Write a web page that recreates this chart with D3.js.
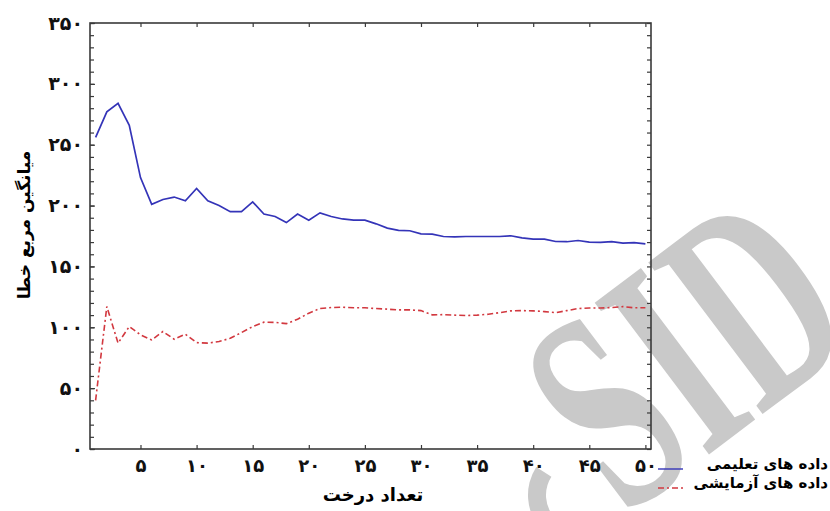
<!DOCTYPE html>
<html>
<head>
<meta charset="utf-8">
<script src="https://cdn.jsdelivr.net/npm/d3@7"></script>
<style>
  body { margin: 0; background: #fff; }
  svg { display: block; }
</style>
</head>
<body>
<div id="chart"></div>
<script>
// number of trees (x)
const trees = [1, 2, 3, 4, 5, 6, 7, 8, 9, 10, 11, 12, 13, 14, 15, 16, 17, 18, 19, 20,
  21, 22, 23, 24, 25, 26, 27, 28, 29, 30, 31, 32, 33, 34, 35, 36, 37, 38, 39, 40,
  41, 42, 43, 44, 45, 46, 47, 48, 49, 50];

// mean squared error, training data
const trainMse = [256, 277, 284, 266, 223, 201, 205, 207, 204, 214, 204, 200, 195, 195, 203,
  193, 191, 186, 193, 188, 194, 191, 189, 188, 188, 185, 181.5, 179.6, 179.3, 176.8,
  176.6, 174.6, 174.3, 174.6, 174.6, 174.6, 174.6, 175.2, 173.5, 172.4,
  172.4, 170.5, 170.3, 171.3, 170, 169.7, 170.3, 169.2, 169.5, 168.6];

// mean squared error, test data
const testMse = [40, 117, 87, 100.6, 93.8, 89.6, 96.5, 90.2, 94.3, 87.4, 87, 88.3, 91, 95.7, 100.6,
  104.2, 104, 103, 106.6, 111.6, 115.4, 116.2, 116.5, 116, 116, 115.4, 114.9, 114.3, 114.3, 113.7,
  110.2, 110.4, 110, 109.6, 110, 110.7, 112, 113.5, 113.7, 113.5,
  112.9, 112, 113.7, 115.4, 115.8, 115.8, 116.2, 117, 116, 116];

const xTicks = [5, 10, 15, 20, 25, 30, 35, 40, 45, 50];
const yTicks = [0, 50, 100, 150, 200, 250, 300, 350];
const yMinorTicks = d3.range(0, 351, 10);

const seriesNames = ["داده های تعلیمی", "داده های آزمایشی"];
const xTitle = "تعداد درخت";
const yTitle = "میانگین مربع خطا";

const faDigits = "۰۱۲۳۴۵۶۷۸۹";
const toFa = n => String(n).replace(/\d/g, d => faDigits[+d]);

const width = 830, height = 511;
const font = "'DejaVu Sans', sans-serif";

const svg = d3.select("#chart").append("svg")
  .attr("width", width)
  .attr("height", height);

// watermark behind the chart
const wm = svg.append("g").style("fill", "#c9c9c9");
wm.append("text")
  .attr("transform", "translate(744,428) rotate(-37) scale(0.62,1)")
  .attr("text-anchor", "middle")
  .style("font-family", "'Liberation Serif', serif")
  .style("font-weight", "bold")
  .style("font-size", "290px")
  .text("SID");
wm.append("path")
  .attr("d", d3.arc()({ innerRadius: 34, outerRadius: 52, startAngle: -1.0, endAngle: -3.6 }))
  .attr("transform", "translate(580,495)");

const x = d3.scaleLinear().domain([0.5, 50.5]).range([90, 651]);
const y = d3.scaleLinear().domain([0, 350]).range([449, 23]);

const axisColor = "#3a3a3a";

// plot frame
svg.append("rect")
  .attr("x", x.range()[0])
  .attr("y", y.range()[1])
  .attr("width", x.range()[1] - x.range()[0])
  .attr("height", y.range()[0] - y.range()[1])
  .style("fill", "none")
  .style("stroke", axisColor)
  .style("stroke-width", 1.6);

function styleAxis(g) {
  g.select(".domain").remove();
  g.selectAll(".tick line").style("stroke", axisColor).style("stroke-width", 1.2);
  g.selectAll("text")
    .style("font-family", font)
    .style("font-weight", "bold")
    .style("fill", "#111");
}

// bottom axis
svg.append("g")
  .attr("transform", `translate(0,${y(0)})`)
  .call(d3.axisBottom(x).tickValues(xTicks).tickSize(-4).tickPadding(10).tickFormat(toFa))
  .call(styleAxis)
  .selectAll("text").style("font-size", "18px");

// top axis
svg.append("g")
  .attr("transform", `translate(0,${y(350)})`)
  .call(d3.axisTop(x).tickValues(xTicks).tickSize(-4).tickFormat(""))
  .call(styleAxis);

// left axis: minor ticks, then labels
svg.append("g")
  .attr("transform", `translate(${x(0.5)},0)`)
  .call(d3.axisLeft(y).tickValues(yMinorTicks).tickSize(-4).tickFormat(""))
  .call(styleAxis);

svg.append("g")
  .attr("transform", `translate(${x(0.5)},0)`)
  .call(d3.axisLeft(y).tickValues(yTicks).tickSize(-5).tickPadding(7).tickFormat(toFa))
  .call(styleAxis)
  .selectAll("text").style("font-size", "19px");

// right axis
svg.append("g")
  .attr("transform", `translate(${x(50.5)},0)`)
  .call(d3.axisRight(y).tickValues(yMinorTicks).tickSize(-4).tickFormat(""))
  .call(styleAxis);

const line = d3.line()
  .x((d, i) => x(trees[i]))
  .y(d => y(d));

svg.append("path")
  .datum(trainMse)
  .attr("d", line)
  .style("fill", "none")
  .style("stroke", "#3434b8")
  .style("stroke-width", 1.7);

svg.append("path")
  .datum(testMse)
  .attr("d", line)
  .style("fill", "none")
  .style("stroke", "#d2383f")
  .style("stroke-width", 1.6)
  .style("stroke-dasharray", "6,3,2,3");

// axis titles
svg.append("text")
  .attr("x", 373)
  .attr("y", 501)
  .attr("text-anchor", "middle")
  .style("font-family", font)
  .style("font-weight", "bold")
  .style("font-size", "18px")
  .text(xTitle);

svg.append("text")
  .attr("transform", "translate(30,225) rotate(-90)")
  .attr("text-anchor", "middle")
  .style("font-family", font)
  .style("font-weight", "bold")
  .style("font-size", "17px")
  .text(yTitle);

// legend
const legendColors = ["#3434b8", "#d2383f"];
const legendDash = [null, "6,3,2,3"];
const legend = svg.append("g");
seriesNames.forEach((name, i) => {
  const ly = 469 + i * 19;
  legend.append("line")
    .attr("x1", 658).attr("x2", 683)
    .attr("y1", ly).attr("y2", ly)
    .style("stroke", legendColors[i])
    .style("stroke-width", 1.4)
    .style("stroke-dasharray", legendDash[i]);
  legend.append("text")
    .attr("x", 828)
    .attr("y", ly)
    .attr("text-anchor", "end")
    .style("font-family", font)
    .style("font-weight", "bold")
    .style("font-size", "15px")
    .text(name);
});
</script>
</body>
</html>
